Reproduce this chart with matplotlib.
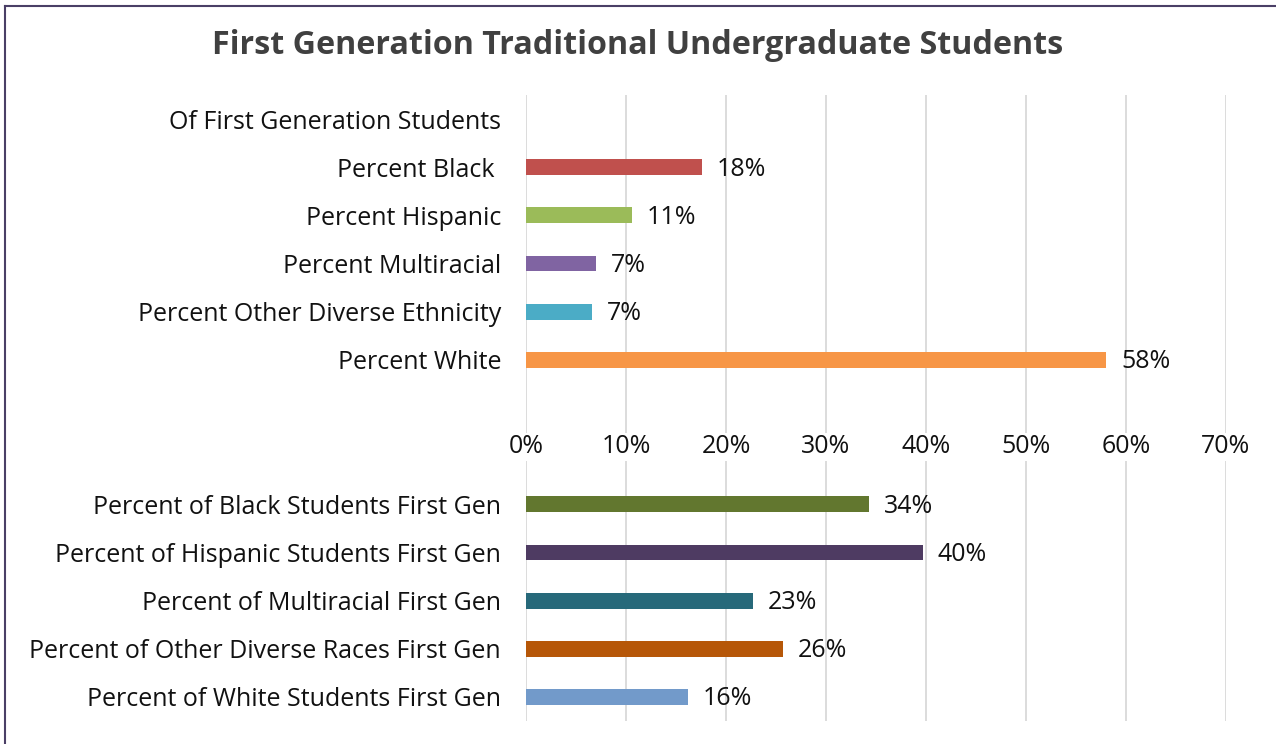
import numpy as np
import matplotlib
matplotlib.use("Agg")
import matplotlib.pyplot as plt
from matplotlib.lines import Line2D

# ---------------------------------------------------------------------------
# Data (top to bottom); blank strings are spacer rows
# ---------------------------------------------------------------------------
categories = [
    "Of First Generation Students",
    "Percent Black ",
    "Percent Hispanic",
    "Percent Multiracial",
    "Percent Other Diverse Ethnicity",
    "Percent White",
    "",
    "",
    "Percent of Black Students First Gen",
    "Percent of Hispanic Students First Gen",
    "Percent of Multiracial First Gen",
    "Percent of Other Diverse Races First Gen",
    "Percent of White Students First Gen",
]
values = [None, 0.176, 0.106, 0.070, 0.066, 0.580, None, None,
          0.343, 0.397, 0.227, 0.257, 0.162]
value_labels = ["", "18%", "11%", "7%", "7%", "58%", "", "",
                "34%", "40%", "23%", "26%", "16%"]
bar_colors = [None, "#C0504D", "#9BBB59", "#8064A2", "#4BACC6", "#F79646", None, None,
              "#62772F", "#4E3B62", "#27697A", "#B65708", "#729ACA"]
tick_values = [0, 0.1, 0.2, 0.3, 0.4, 0.5, 0.6, 0.7]
tick_labels = ["0%", "10%", "20%", "30%", "40%", "50%", "60%", "70%"]
axis_row = 6.8  # where the percent labels sit between the two groups

FONT = "Open Sans"
TEXT = "#111111"
FS = 18

fig = plt.figure(figsize=(12.76, 7.44), dpi=100)
ax = fig.add_axes([526 / 1276, 1 - 721 / 744, 700 / 1276, 626 / 744])

y = np.arange(len(categories))
for yi, v, c, lab in zip(y, values, bar_colors, value_labels):
    if v is None:
        continue
    ax.barh(yi, v, height=0.33, color=c, zorder=2)
    ax.text(v + 0.015, yi + 0.04, lab, va="center", ha="left",
            fontsize=FS, family=FONT, color=TEXT)

ax.set_ylim(len(categories) - 0.5, -0.5)
ax.set_xlim(0, 0.7)
ax.set_yticks(y)
ax.set_yticklabels(categories, fontsize=FS, family=FONT, color=TEXT)
ax.tick_params(axis="y", length=0, pad=18)
ax.set_xticks(tick_values)
ax.set_xticklabels([])
ax.tick_params(axis="x", length=0)
ax.grid(axis="x", color="#D9D9D9", linewidth=1.3, zorder=0)
for s in ax.spines.values():
    s.set_visible(False)

# percent labels placed between the two groups
for tv, tl in zip(tick_values, tick_labels):
    ax.text(tv, axis_row, tl, ha="center", va="center",
            fontsize=FS, family=FONT, color=TEXT,
            bbox=dict(facecolor="white", edgecolor="none", pad=1), zorder=3)

fig.text(0.5, 1 - 46 / 744, "First Generation Traditional Undergraduate Students",
         ha="center", va="center", fontsize=23.2, fontweight="bold",
         family=FONT, color="#404040")

# chart frame (top and left edges visible)
fig.add_artist(Line2D([5 / 1276, 1], [1 - 6 / 744, 1 - 6 / 744],
                      transform=fig.transFigure, color="#4A3F66", linewidth=1.5))
fig.add_artist(Line2D([5 / 1276, 5 / 1276], [0, 1 - 6 / 744],
                      transform=fig.transFigure, color="#4A3F66", linewidth=1.5))

fig.savefig("out.png", dpi=100)
